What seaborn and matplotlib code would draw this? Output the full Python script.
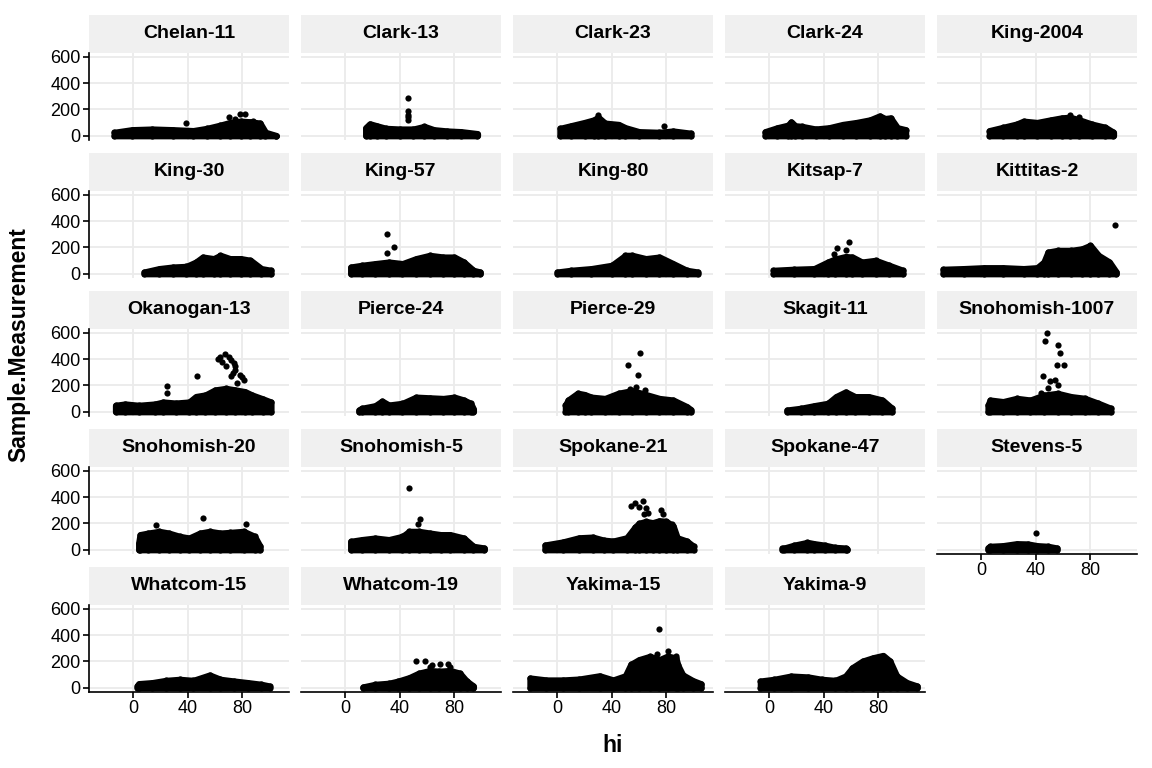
import pandas as pd
import matplotlib
matplotlib.use("Agg")
import matplotlib.pyplot as plt
import seaborn as sns
from matplotlib.patches import Rectangle

sns.set_theme(style="white")
plt.rcParams['font.family'] = ['Liberation Sans', 'DejaVu Sans']

# monitoring sites, in facet order
sites = [
    "Chelan-11", "Clark-13", "Clark-23", "Clark-24", "King-2004",
    "King-30", "King-57", "King-80", "Kitsap-7", "Kittitas-2",
    "Okanogan-13", "Pierce-24", "Pierce-29", "Skagit-11", "Snohomish-1007",
    "Snohomish-20", "Snohomish-5", "Spokane-21", "Spokane-47", "Stevens-5",
    "Whatcom-15", "Whatcom-19", "Yakima-15", "Yakima-9",
]

# dense part of each point cloud: hi positions and upper edge of the cloud
cloud_x = [
    [-14, -1, 14, 29, 44, 54, 64, 71, 79, 86, 93, 97, 105],
    [15, 18, 23, 30, 40, 50, 58, 65, 75, 85, 97],
    [2, 10, 20, 27, 30, 35, 45, 50, 60, 75, 85, 98],
    [-3, 6, 14, 16, 19, 24, 34, 44, 54, 64, 74, 81, 85, 89, 94, 100],
    [6, 16, 26, 31, 41, 51, 59, 65, 72, 81, 91, 97],
    [8, 19, 29, 39, 46, 51, 59, 64, 71, 79, 86, 94, 101],
    [4, 12, 22, 32, 42, 52, 62, 72, 80, 87, 94, 99],
    [0, 10, 25, 40, 50, 55, 65, 75, 85, 95, 103],
    [3, 18, 33, 43, 48, 56, 61, 68, 78, 88, 98],
    [-28, -13, 2, 16, 31, 41, 46, 49, 56, 66, 74, 80, 86, 94, 99],
    [-13, -6, 4, 16, 22, 31, 41, 46, 53, 60, 68, 75, 82, 87, 95, 101],
    [10, 12, 22, 27, 32, 42, 52, 62, 72, 80, 87, 92, 94],
    [6, 8, 15, 20, 25, 35, 45, 55, 65, 75, 85, 95, 98],
    [13, 23, 33, 43, 49, 56, 63, 73, 83, 90],
    [5, 6.5, 16, 26, 36, 46, 56, 66, 76, 86, 95],
    [4, 5, 11, 19, 26, 34, 41, 49, 56, 64, 71, 81, 89, 93],
    [4, 12, 22, 32, 42, 47, 54, 62, 70, 77, 87, 94, 102],
    [-9, 4, 16, 26, 34, 41, 51, 57, 60, 65, 70, 75, 80, 85, 88, 95, 100],
    [9.5, 11, 18, 28, 33, 41, 48, 56, 57],
    [5, 6.5, 16, 26, 34, 41, 49, 55.5],
    [3, 4, 14, 24, 34, 44, 56, 64, 74, 84, 94, 100],
    [13, 22, 32, 39, 47, 54, 62, 69, 77, 84, 89, 94],
    [-20, -8, 4, 16, 31, 41, 50, 54, 60, 68, 75, 81, 87, 88.5, 92, 99.5, 105.5],
    [-6.5, 3.5, 16, 28.5, 38.5, 48.5, 56, 61, 68.5, 76, 83.5, 88.5, 93.5, 101, 108.5],
]
cloud_top = [
    [25, 45, 50, 45, 38, 55, 80, 100, 110, 105, 95, 25, 0],
    [60, 90, 75, 55, 50, 50, 70, 45, 35, 30, 15],
    [55, 75, 100, 120, 140, 95, 85, 60, 30, 25, 35, 18],
    [30, 60, 80, 105, 75, 70, 50, 60, 85, 100, 120, 150, 130, 135, 60, 45],
    [38, 63, 88, 110, 100, 120, 135, 140, 120, 88, 63, 25],
    [12, 38, 50, 55, 88, 126, 114, 139, 114, 114, 101, 38, 25],
    [50, 63, 76, 88, 76, 114, 139, 126, 126, 88, 25, 12],
    [12, 25, 38, 63, 139, 139, 114, 126, 76, 25, 12],
    [25, 33, 38, 88, 110, 130, 126, 88, 101, 63, 25],
    [33, 38, 45, 45, 38, 45, 88, 164, 177, 177, 189, 215, 139, 88, 12],
    [48, 58, 48, 58, 73, 65, 73, 115, 127, 165, 177, 165, 152, 127, 97, 73],
    [12, 25, 45, 80, 50, 63, 110, 105, 100, 110, 88, 63, 20],
    [50, 88, 140, 130, 110, 100, 140, 160, 130, 100, 88, 38, 15],
    [12, 25, 45, 63, 114, 150, 114, 114, 88, 25],
    [50, 88, 76, 101, 88, 126, 139, 114, 101, 63, 25],
    [50, 114, 126, 139, 126, 101, 88, 126, 139, 126, 131, 139, 101, 25],
    [63, 76, 88, 76, 101, 139, 139, 126, 114, 114, 88, 25, 12],
    [35, 58, 90, 95, 72, 65, 90, 170, 200, 215, 205, 220, 215, 180, 90, 65, 25],
    [10, 12, 33, 55, 45, 33, 17, 12, 5],
    [15, 25, 30, 45, 43, 30, 25, 12],
    [15, 30, 38, 55, 63, 55, 96, 63, 50, 38, 25, 12],
    [5, 25, 33, 50, 76, 110, 130, 125, 130, 110, 50, 12],
    [73, 58, 58, 65, 90, 58, 90, 177, 213, 238, 213, 240, 226, 170, 97, 53, 29],
    [50, 63, 88, 81, 63, 55, 88, 152, 202, 227, 245, 202, 88, 38, 12],
]

# isolated high readings
point_x = [
    [39, 70, 78, 82, 75, 88],
    [46, 46, 46, 46, 46],
    [30, 78],
    [],
    [72, 65],
    [],
    [30.5, 35.5, 30.5],
    [],
    [47.5, 50, 56, 58.5],
    [98],
    [24.5, 24.5, 46.5, 62, 64, 67, 70, 72, 74, 75, 75, 73, 72, 76, 78, 80, 81, 65, 68],
    [],
    [60.5, 52, 59, 53.5, 64.5, 58],
    [],
    [48, 47, 56.5, 57.5, 55.5, 60.5, 45.5, 54, 56.5, 50.5, 44, 49],
    [16.5, 51.5, 82.5],
    [47, 55, 53.5],
    [54, 57, 63, 65, 60, 66.5, 76, 77.5, 64, 84],
    [],
    [40],
    [],
    [52, 58.5, 69.5, 75.5, 63.5, 62, 77],
    [74.6, 73, 81, 87],
    [],
]
point_y = [
    [94, 140, 165, 165, 128, 112],
    [286, 190, 160, 146, 121],
    [155, 73],
    [],
    [144, 158],
    [],
    [300, 200, 158],
    [],
    [150, 195, 182, 245],
    [372],
    [195, 146, 274, 400, 417, 437, 420, 395, 368, 345, 319, 294, 270, 215, 280, 262, 245, 380, 350],
    [],
    [448, 354, 283, 170, 164, 190],
    [],
    [600, 536, 511, 448, 352, 352, 271, 245, 207, 233, 144, 182],
    [190, 245, 195],
    [473, 233, 195],
    [331, 356, 373, 319, 324, 282, 299, 269, 269, 195],
    [],
    [127],
    [],
    [200, 200, 182, 180, 175, 160, 160],
    [447, 257, 282, 245],
    [],
]

rows = []
for s, xs, ts in zip(sites, cloud_x, cloud_top):
    for x, t in zip(xs, ts):
        rows.append((s, x, t, "top"))
        rows.append((s, x, 0, "base"))
for s, xs, ys in zip(sites, point_x, point_y):
    for x, y in zip(xs, ys):
        rows.append((s, x, y, "point"))
df = pd.DataFrame(rows, columns=["site", "hi", "Sample.Measurement", "kind"])


def draw_cloud(data, **kws):
    ax = plt.gca()
    top = data[data["kind"] == "top"]
    ax.fill_between(top["hi"], 0, top["Sample.Measurement"], facecolor="black",
                    edgecolor="black", linewidth=4.6, joinstyle="round", zorder=3)
    sns.scatterplot(data=data, x="hi", y="Sample.Measurement", color="black",
                    s=20, linewidth=0, ax=ax, zorder=4)


g = sns.FacetGrid(df, col="site", col_wrap=5, col_order=sites, height=2, aspect=1.6,
                  sharex=True, sharey=True, despine=False)
g.map_dataframe(draw_cloud)
g.set_titles("")
g.set_axis_labels("", "")

strip_h = 38 / 87
for i, ax in enumerate(g.axes.flat):
    ax.set_xlim(-32.5, 114.3)
    ax.set_ylim(-33, 630)
    ax.set_xticks([0, 40, 80])
    ax.set_yticks([0, 200, 400, 600])
    ax.set_facecolor("white")
    ax.grid(True, color="#EBEBEB", linewidth=1.3)
    ax.set_axisbelow(True)
    left = i % 5 == 0
    bottom = i >= 19
    for side in ["top", "right"]:
        ax.spines[side].set_visible(False)
    ax.spines["left"].set_visible(left)
    ax.spines["bottom"].set_visible(bottom)
    for side in ["left", "bottom"]:
        ax.spines[side].set_color("black")
        ax.spines[side].set_linewidth(1.2)
    ax.tick_params(axis="y", left=left, labelleft=left, length=4, width=1.2,
                   color="black", labelcolor="black", labelsize=13, pad=2)
    ax.tick_params(axis="x", bottom=bottom, labelbottom=bottom, length=4, width=1.2,
                   color="black", labelcolor="black", labelsize=13, pad=2)
    ax.add_patch(Rectangle((0, 1), 1, strip_h, transform=ax.transAxes,
                           facecolor="#F0F0F0", edgecolor="none", clip_on=False))
    ax.text(0.5, 1 + strip_h / 2, sites[i], transform=ax.transAxes, ha="center",
            va="center", fontsize=14, fontweight="bold", color="black")

fig = g.figure
fig.set_size_inches(11.52, 7.68)
fig.subplots_adjust(left=89 / 1152, right=1137 / 1152, top=1 - 53 / 768,
                    bottom=1 - 692 / 768, wspace=12 / 200, hspace=51 / 87)
fig.text(613 / 1152, 1 - 745 / 768, "hi", ha="center", va="center",
         fontsize=16.5, fontweight="bold", color="black")
fig.text(19 / 1152, 1 - 345 / 768, "Sample.Measurement", ha="center", va="center",
         rotation=90, fontsize=16.5, fontweight="bold", color="black")

fig.savefig("out.png", dpi=100)
